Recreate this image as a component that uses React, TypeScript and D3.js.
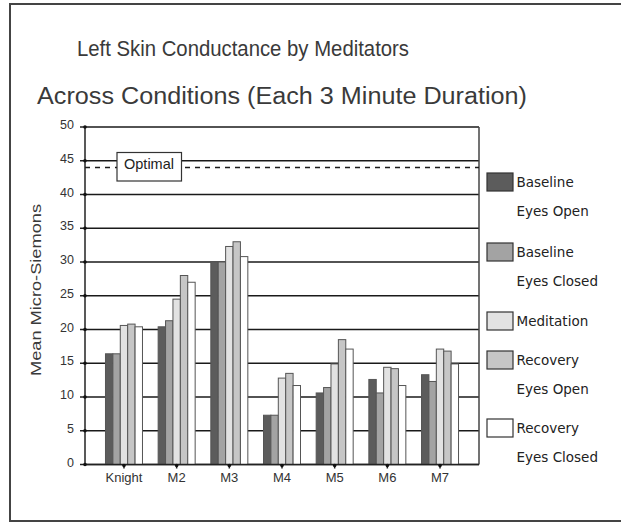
import React from "react";
import * as d3 from "d3";

const categories = ["Knight", "M2", "M3", "M4", "M5", "M6", "M7"];
const seriesNames = ["Baseline Eyes Open", "Baseline Eyes Closed", "Meditation", "Recovery Eyes Open", "Recovery Eyes Closed"];
const baselineEyesOpen = [16.4, 20.4, 30.0, 7.3, 10.6, 12.6, 13.3];
const baselineEyesClosed = [16.4, 21.3, 30.0, 7.3, 11.4, 10.6, 12.3];
const meditation = [20.6, 24.5, 32.3, 12.8, 14.9, 14.4, 17.1];
const recoveryEyesOpen = [20.8, 28.0, 33.0, 13.5, 18.5, 14.2, 16.8];
const recoveryEyesClosed = [20.4, 27.0, 30.8, 11.7, 17.1, 11.7, 14.9];
const yTicks = [0, 5, 10, 15, 20, 25, 30, 35, 40, 45, 50];
const optimalValue = 44;
const legendLines = [["Baseline", "Eyes Open"], ["Baseline", "Eyes Closed"], ["Meditation"], ["Recovery", "Eyes Open"], ["Recovery", "Eyes Closed"]];

const colors = ["#5c5c5c", "#a3a3a3", "#e2e2e2", "#c6c6c6", "#ffffff"];
const allSeries = [baselineEyesOpen, baselineEyesClosed, meditation, recoveryEyesOpen, recoveryEyesClosed];

export default function App() {
  const left = 85, right = 479, top = 127, bottom = 464.5;
  const y = d3.scaleLinear().domain([0, 50]).range([bottom, top]);
  const x = d3.scaleBand().domain(categories).range([left, right]).paddingInner(0).paddingOuter(0.24);
  const groupW = 37;
  const inner = d3.scaleBand().domain(seriesNames.map((_, i) => String(i))).range([-groupW / 2, groupW / 2]).padding(0);
  const font = "'Liberation Sans', Arial, sans-serif";
  const legendFont = "'DejaVu Sans', Verdana, sans-serif";
  const legendSwatchY = [173, 243, 312, 351, 419];
  return (
    <svg width={621} height={523} style={{ position: "absolute", left: 0, top: 0, background: "#fff" }}>
      <rect x={10} y={4} width={640} height={517} fill="#fff" stroke="#444" strokeWidth={2} />
      <text x={77} y={56} fontFamily={font} fontSize={21.5} fill="#3a3a3a" textLength={332} lengthAdjust="spacingAndGlyphs">Left Skin Conductance by Meditators</text>
      <text x={37} y={104} fontFamily={font} fontSize={23} fill="#3a3a3a" textLength={490} lengthAdjust="spacingAndGlyphs">Across Conditions (Each 3 Minute Duration)</text>
      {/* gridlines */}
      {yTicks.map((t) => (
        <line key={"g" + t} x1={left} x2={right} y1={y(t)} y2={y(t)} stroke="#1a1a1a" strokeWidth={1.6} />
      ))}
      <line x1={right} x2={right} y1={top} y2={bottom} stroke="#444" strokeWidth={1.5} />
      {/* optimal dashed line */}
      <line x1={left} x2={right} y1={y(optimalValue)} y2={y(optimalValue)} stroke="#1a1a1a" strokeWidth={1.6} strokeDasharray="5,5" />
      <rect x={117} y={152.5} width={64.5} height={28.5} fill="#fff" stroke="#333" strokeWidth={1.2} />
      <text x={149} y={168.5} textAnchor="middle" fontFamily={font} fontSize={14.5} fill="#222">Optimal</text>
      {/* bars */}
      {categories.map((c, ci) => (
        <g key={c} transform={`translate(${(x(c) as number) + x.bandwidth() / 2},0)`}>
          {allSeries.map((s, si) => (
            <rect key={si} x={inner(String(si)) as number} width={inner.bandwidth()} y={y(s[ci])} height={y(0) - y(s[ci])} fill={colors[si]} stroke="#555" strokeWidth={1} />
          ))}
        </g>
      ))}
      {/* axes */}
      <line x1={left} x2={left} y1={top} y2={bottom} stroke="#222" strokeWidth={1.5} />
      <line x1={left} x2={right} y1={bottom} y2={bottom} stroke="#222" strokeWidth={1.5} />
      {yTicks.map((t) => (
        <g key={"t" + t}>
          <line x1={left - 5} x2={left} y1={y(t)} y2={y(t)} stroke="#222" strokeWidth={1.5} />
          <circle cx={left} cy={y(t)} r={1.8} fill="#111" />
          <text x={74} y={y(t) + 2} textAnchor="end" fontFamily={font} fontSize={12.5} fill="#333">{t}</text>
        </g>
      ))}
      {categories.map((c) => {
        const cx = (x(c) as number) + x.bandwidth() / 2;
        return (
          <g key={"x" + c}>
            <line x1={cx} x2={cx} y1={bottom} y2={bottom + 4} stroke="#222" strokeWidth={1.5} />
            <circle cx={cx} cy={bottom + 1} r={1.8} fill="#111" />
            <text x={cx} y={482} textAnchor="middle" fontFamily={font} fontSize={13} fill="#333">{c}</text>
          </g>
        );
      })}
      <text transform="translate(41,290) rotate(-90)" textAnchor="middle" fontFamily={font} fontSize={14.5} fill="#3a3a3a" textLength={172} lengthAdjust="spacingAndGlyphs">Mean Micro-Siemons</text>
      {/* legend */}
      {legendLines.map((lines, i) => (
        <g key={"l" + i}>
          <rect x={487} y={legendSwatchY[i]} width={26} height={18} fill={colors[i]} stroke="#333" strokeWidth={1.2} />
          {lines.map((ln, li) => (
            <text key={li} x={516.5} y={legendSwatchY[i] + 14 + li * 29} fontFamily={legendFont} fontSize={13.5} fill="#222">{ln}</text>
          ))}
        </g>
      ))}
    </svg>
  );
}
